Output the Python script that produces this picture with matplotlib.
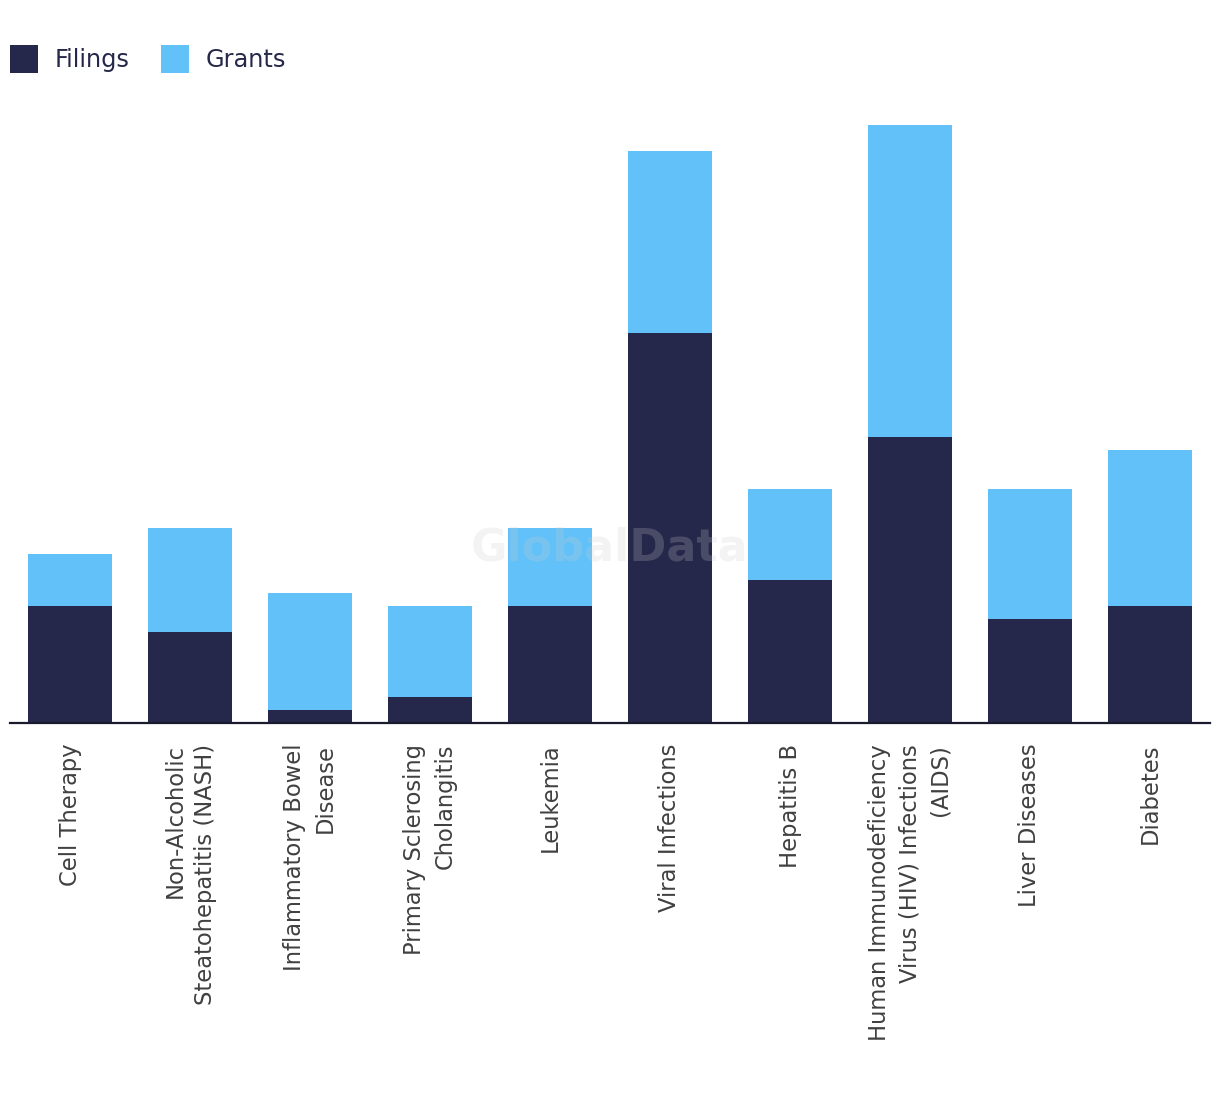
import matplotlib
matplotlib.use("Agg")
import matplotlib.pyplot as plt
import numpy as np

categories = [
    "Cell Therapy",
    "Non-Alcoholic\nSteatohepatitis (NASH)",
    "Inflammatory Bowel\nDisease",
    "Primary Sclerosing\nCholangitis",
    "Leukemia",
    "Viral Infections",
    "Hepatitis B",
    "Human Immunodeficiency\nVirus (HIV) Infections\n(AIDS)",
    "Liver Diseases",
    "Diabetes",
]
filings = [9, 7, 1, 2, 9, 30, 11, 22, 8, 9]
grants = [4, 8, 9, 7, 6, 14, 7, 24, 10, 12]

C_FIL = "#26284B"
C_GRA = "#62C1F9"

plt.rcParams['font.family'] = ['DejaVu Sans']

W, H = 1220, 1094
fig = plt.figure(figsize=(W / 100, H / 100), dpi=100)
ax = fig.add_axes([10 / W, 1 - 723 / H, 1200 / W, (723 - 99) / H])

x = np.arange(len(categories))
ax.bar(x, filings, width=0.7, color=C_FIL, label="Filings", zorder=2)
ax.bar(x, grants, width=0.7, bottom=filings, color=C_GRA, label="Grants", zorder=2)

ax.set_xlim(-0.5, len(categories) - 0.5)
ax.set_ylim(0, 48)
ax.set_yticks([])
for s in ["top", "right", "left"]:
    ax.spines[s].set_visible(False)
ax.spines["bottom"].set_color("#1a1a2e")
ax.spines["bottom"].set_linewidth(1.6)
ax.set_xticks(x)
ax.set_xticklabels(categories, rotation=90, ha="center", va="top",
                   multialignment="right", fontsize=16.3, color="#404040",
                   linespacing=1.4)
ax.tick_params(axis="x", length=0, pad=15)

ax.text(0.5, 0.28, "GlobalData", transform=ax.transAxes, ha="center", va="center",
        fontsize=32, fontweight="bold", color="#cccccc", alpha=0.22, zorder=3)

fig.legend(loc="upper left", bbox_to_anchor=(10 / W, 1 - 45 / H), ncol=2,
           frameon=False, fontsize=17.3, handlelength=1.17, handleheight=1.42,
           handletextpad=0.7, columnspacing=1.3, labelcolor="#26284B",
           borderpad=0, borderaxespad=0)

fig.savefig("out.png", dpi=100, facecolor="white")
